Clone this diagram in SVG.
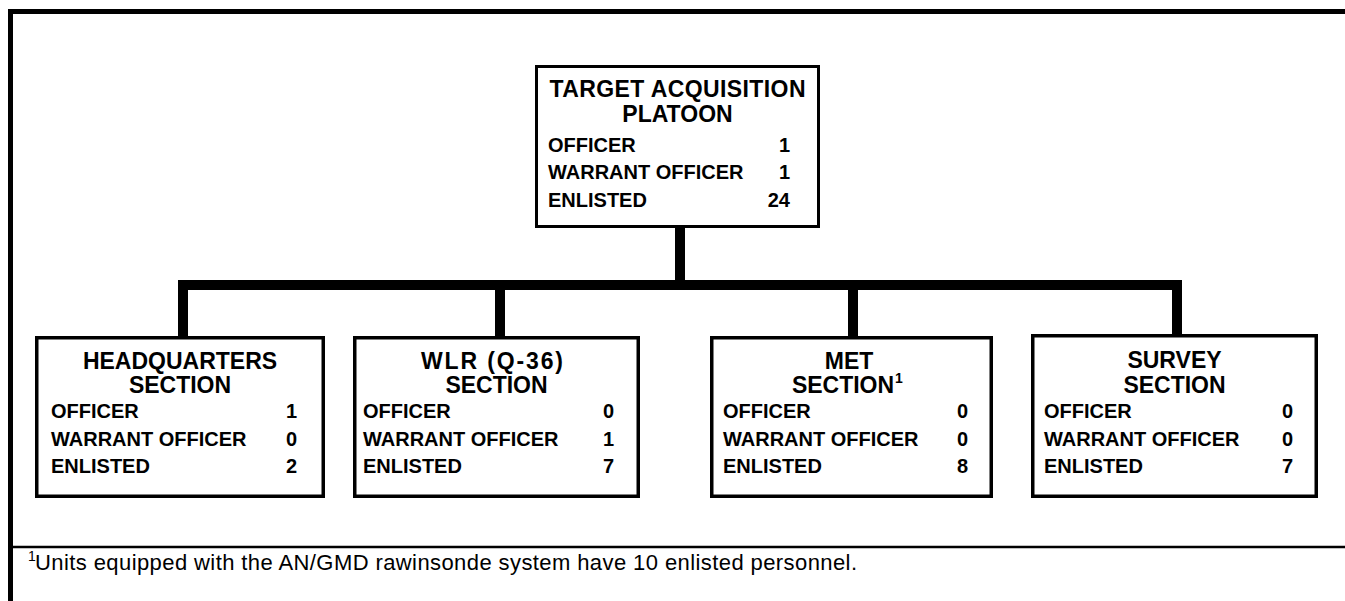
<svg xmlns="http://www.w3.org/2000/svg" width="1345" height="601" viewBox="0 0 1345 601">
<style>
text{font-family:"Liberation Sans",Arial,Helvetica,sans-serif;fill:#000}
.t{font-size:23px;font-weight:bold;text-anchor:middle}
.r{font-size:20px;font-weight:bold}
.n{font-size:20px;font-weight:bold;text-anchor:end}
.box{fill:#fff;stroke:#000;stroke-width:3.5}
.con{fill:none;stroke:#000;stroke-width:10;stroke-linejoin:miter}
.fn{font-size:22px}
.sup{font-size:14px}
</style>
<rect width="1345" height="601" fill="#fff"/>
<g id="frame">
<rect x="8" y="9" width="1337" height="5" fill="#000"/>
<rect x="8" y="9" width="5" height="592" fill="#000"/>
<line x1="10" y1="547" x2="1345" y2="547" stroke="#000" stroke-width="2.5"/>
</g>
<g id="connectors">
<line class="con" x1="680" y1="226" x2="680" y2="285"/>
<path class="con" d="M183,338 V285 H1177 V336"/>
<line class="con" x1="500" y1="285" x2="500" y2="338"/>
<line class="con" x1="853" y1="285" x2="853" y2="338"/>
</g>
<g id="platoon">
<rect class="box" x="536.5" y="66.5" width="282" height="160" style="stroke-width:3"/>
<text class="t" x="677.5" y="97" textLength="256" lengthAdjust="spacing">TARGET ACQUISITION</text>
<text class="t" x="677.5" y="122">PLATOON</text>
<text class="r" x="548" y="152">OFFICER</text><text class="n" x="790" y="152">1</text>
<text class="r" x="548" y="179">WARRANT OFFICER</text><text class="n" x="790" y="179">1</text>
<text class="r" x="548" y="207">ENLISTED</text><text class="n" x="790" y="207">24</text>
</g>
<g id="hq">
<rect class="box" x="36.75" y="337.75" width="286.5" height="158.5"/>
<text class="t" x="180" y="369">HEADQUARTERS</text>
<text class="t" x="180" y="393">SECTION</text>
<text class="r" x="51" y="418">OFFICER</text><text class="n" x="297" y="418">1</text>
<text class="r" x="51" y="446">WARRANT OFFICER</text><text class="n" x="297" y="446">0</text>
<text class="r" x="51" y="473">ENLISTED</text><text class="n" x="297" y="473">2</text>
</g>
<g id="wlr">
<rect class="box" x="354.75" y="337.75" width="283.5" height="158.5"/>
<text class="t" x="492" y="369" textLength="142" lengthAdjust="spacing">WLR (Q-36)</text>
<text class="t" x="496.5" y="393">SECTION</text>
<text class="r" x="363" y="418">OFFICER</text><text class="n" x="614" y="418">0</text>
<text class="r" x="363" y="446">WARRANT OFFICER</text><text class="n" x="614" y="446">1</text>
<text class="r" x="363" y="473">ENLISTED</text><text class="n" x="614" y="473">7</text>
</g>
<g id="met">
<rect class="box" x="711.75" y="337.75" width="279.5" height="158.5"/>
<text class="t" x="849" y="369">MET</text>
<text class="t" x="843" y="393">SECTION</text>
<text class="sup" x="895" y="383" style="font-weight:bold">1</text>
<text class="r" x="723" y="418">OFFICER</text><text class="n" x="968" y="418">0</text>
<text class="r" x="723" y="446">WARRANT OFFICER</text><text class="n" x="968" y="446">0</text>
<text class="r" x="723" y="473">ENLISTED</text><text class="n" x="968" y="473">8</text>
</g>
<g id="survey">
<rect class="box" x="1032.75" y="335.75" width="283.5" height="160.5"/>
<text class="t" x="1174.5" y="368">SURVEY</text>
<text class="t" x="1174.5" y="393">SECTION</text>
<text class="r" x="1044" y="418">OFFICER</text><text class="n" x="1293" y="418">0</text>
<text class="r" x="1044" y="446">WARRANT OFFICER</text><text class="n" x="1293" y="446">0</text>
<text class="r" x="1044" y="473">ENLISTED</text><text class="n" x="1293" y="473">7</text>
</g>
<g id="footnote">
<text class="sup" x="28" y="561">1</text>
<text class="fn" x="35" y="570" textLength="822" lengthAdjust="spacing">Units equipped with the AN/GMD rawinsonde system have 10 enlisted personnel.</text>
</g>
</svg>
